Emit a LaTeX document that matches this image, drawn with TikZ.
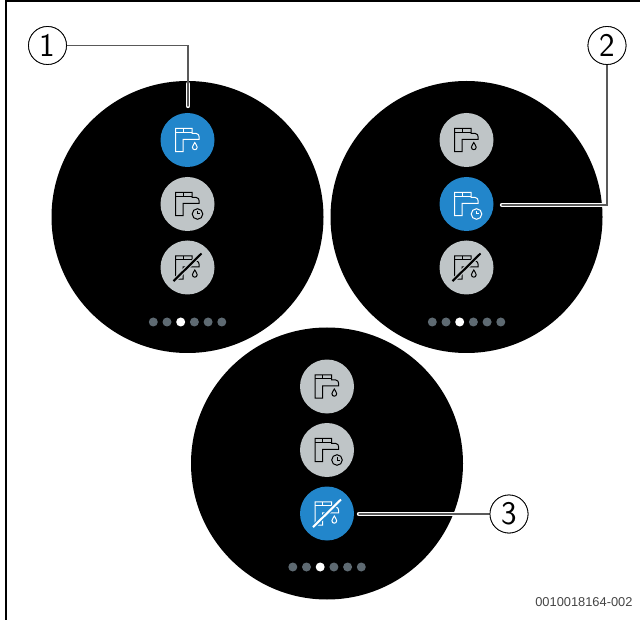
\documentclass[tikz,border=0pt]{standalone}
\usepackage{fontspec}
\setmainfont{Liberation Sans}
\setsansfont{Latin Modern Sans}
\definecolor{btnblue}{HTML}{2286CB}
\definecolor{btngrey}{HTML}{BFC5C7}
\definecolor{dotgrey}{HTML}{5E6A72}
\definecolor{codegrey}{HTML}{444444}
\tikzset{
    tap/.pic={
        \draw (-12,-11.7) -- (4.7,-11.7) -- (4.7,-6.7) -- (8.5,-6.7)
            .. controls (10.8,-6.7) and (11.7,-5) .. (11.7,-0.7)
            -- (-4.3,-0.7) -- (-4.3,11.7) -- (-12,11.7) -- cycle;
        \draw (-12,-7.7) -- (4.7,-7.7);
        \draw (-4.3,-11.7) -- (-4.3,-7.7);
    },
    drop/.pic={
        \draw (7.3,2.5) .. controls (6.6,4.5) and (4.9,5.5) .. (4.9,7.2)
            .. controls (4.9,10.5) and (9.7,10.5) .. (9.7,7.2)
            .. controls (9.7,5.5) and (8,4.5) .. (7.3,2.5) -- cycle;
    },
    watch/.pic={
        \draw (10,10) circle (5.3);
        \draw (10,7) -- (10,10) -- (12.6,10);
    },
    tapdrop/.pic={
        \pic {tap};
        \pic {drop};
    },
    tapwatch/.pic={
        \pic {tap};
        \pic {watch};
    },
    tapoff/.pic={
        \pic {tap};
        \pic {drop};
        \draw[#1, line width=4.4pt] (-14,13.6) -- (14,-14);
        \draw[line width=2.1pt] (-14,13.6) -- (14,-14);
    }
}
\begin{document}
\begin{tikzpicture}[
    x=1pt, y=-1pt,
    line width=1pt,
    face/.style={circle, fill=black, minimum size=272pt, inner sep=0pt},
    btn/.style={circle, minimum size=54pt, inner sep=0pt},
    pip/.style={circle, minimum size=9pt, inner sep=0pt, fill=dotgrey},
    callout/.style={circle, draw=black, line width=0.8pt, fill=white, minimum size=38pt, inner sep=0pt, font=\sffamily\fontsize{33}{33}\selectfont},
    halo/.style={draw=white, line width=4.4pt, line cap=round},
    leader/.style={draw=black!65, line width=1.2pt, line cap=round}
]
\useasboundingbox (0,0) rectangle (640,620);

% frame
\draw[line width=2.3pt] (5.8,620) -- (5.8,1.2) -- (640,1.2);

% watch faces
\node[face] (f1) at (187.5,217) {};
\node[face] (f2) at (466.5,217) {};
\node[face] (f3) at (327,463.5) {};

% buttons
\node[btn, fill=btnblue] (a1) at (187.5,140) {};
\node[btn, fill=btngrey] (a2) at (187.5,204) {};
\node[btn, fill=btngrey] (a3) at (187.5,267.5) {};
\node[btn, fill=btngrey] (b1) at (466.5,140) {};
\node[btn, fill=btnblue] (b2) at (466.5,204) {};
\node[btn, fill=btngrey] (b3) at (466.5,267.5) {};
\node[btn, fill=btngrey] (c1) at (327,386.5) {};
\node[btn, fill=btngrey] (c2) at (327,450) {};
\node[btn, fill=btnblue] (c3) at (327,513.5) {};

\pic[white] at (a1) {tapdrop};
\pic at (a2) {tapwatch};
\pic at (a3) {tapoff=btngrey};
\pic at (b1) {tapdrop};
\pic[white] at (b2) {tapwatch};
\pic at (b3) {tapoff=btngrey};
\pic at (c1) {tapdrop};
\pic at (c2) {tapwatch};
\pic[white] at (c3) {tapoff=btnblue};

% page dots
\foreach \fc/\cx/\cy in {f1/187.5/322, f2/466.5/322, f3/327/567}{
    \foreach \i in {0,1,3,4,5}{
        \node[pip] (\fc-p\i) at (\cx-34.2+\i*13.7,\cy) {};
    }
    \node[pip, fill=white] (\fc-p2) at (\cx-34.2+27.4,\cy) {};
}

% callouts
\node[callout] (n1) at (47.5,45.5) {};
\node[callout] (n2) at (607,45.5) {};
\node[callout] (n3) at (509,514) {};

\coordinate (t1) at (188,106);
\coordinate (t2) at (502,205);
\coordinate (t3) at (359,514);

\draw[halo] (188,84) -- (t1);
\draw[halo] (n2 |- t2) -- (t2);
\draw[halo] (n3) -- (t3);
\draw[leader] (n1) -| (t1);
\draw[leader] (n2) |- (t2);
\draw[leader] (n3) -- (t3);
\node[callout] at (n1) {1};
\node[callout] at (n2) {2};
\node[callout] at (n3) {3};

\node[anchor=east, text=codegrey, font=\fontsize{12.85}{13}\selectfont, inner sep=0pt] (code) at (633,602) {0010018164-002};

\end{tikzpicture}
\end{document}
